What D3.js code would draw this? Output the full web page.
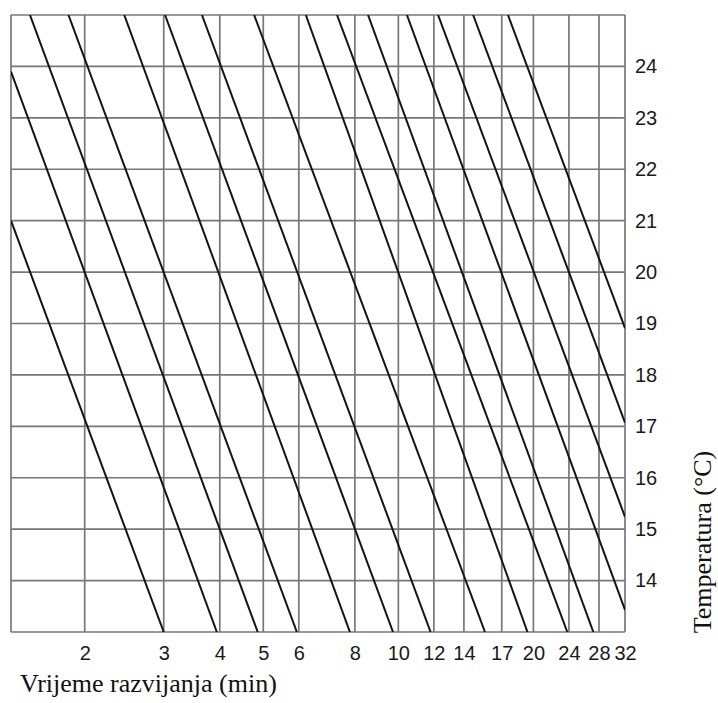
<!DOCTYPE html>
<html>
<head>
<meta charset="utf-8">
<script src="https://cdn.jsdelivr.net/npm/d3@7/dist/d3.min.js"></script>
<style>
  body { margin: 0; background: #fff; }
  svg { display: block; }
</style>
</head>
<body>
<svg id="chart"></svg>
<script>
// development time ticks (min) and temperature ticks (°C)
const timeTicks = [2, 3, 4, 5, 6, 8, 10, 12, 14, 17, 20, 24, 28, 32];
const tempTicks = [14, 15, 16, 17, 18, 19, 20, 21, 22, 23, 24];
const timeRange = [1.37, 32];
const tempRange = [13, 25];

const lineStartTime = [1.37, 1.37, 1.51, 1.84, 2.45, 3.02, 3.65, 4.77, 6.22, 7.30, 8.56, 10.45, 12.26, 14.68, 17.55];
const lineStartTemp = [21.0, 23.9, 25, 25, 25, 25, 25, 25, 25, 25, 25, 25, 25, 25, 25];
const lineEndTime   = [3.0, 3.94, 4.86, 5.94, 7.8, 9.73, 11.8, 15.6, 19.4, 23.8, 27.2, 32, 32, 32, 32];
const lineEndTemp   = [13, 13, 13, 13, 13, 13, 13, 13, 13, 13, 13, 13.43, 15.24, 17.07, 18.91];

const xTitle = "Vrijeme razvijanja (min)";
const yTitle = "Temperatura (°C)";

const width = 718, height = 703;
const plot = {left: 11, right: 625, top: 15, bottom: 632};

const svg = d3.select("#chart").attr("width", width).attr("height", height);

const x = d3.scaleLog().domain(timeRange).range([plot.left, plot.right]);
const y = d3.scaleLinear().domain(tempRange).range([plot.bottom, plot.top]);

const gridColor = "#777";

// grid
const grid = svg.append("g").attr("class", "grid")
    .attr("stroke", gridColor).attr("stroke-width", 1.7);

grid.selectAll("line.v")
    .data([timeRange[0]].concat(timeTicks))
    .join("line")
    .attr("class", "v")
    .attr("x1", d => x(d)).attr("x2", d => x(d))
    .attr("y1", y(tempRange[0])).attr("y2", y(tempRange[1]));

grid.selectAll("line.h")
    .data([tempRange[0]].concat(tempTicks, [tempRange[1]]))
    .join("line")
    .attr("class", "h")
    .attr("y1", d => y(d)).attr("y2", d => y(d))
    .attr("x1", x(timeRange[0])).attr("x2", x(timeRange[1]));

// development lines, clipped to the frame
svg.append("clipPath").attr("id", "plot-clip")
    .append("rect")
    .attr("x", plot.left).attr("y", plot.top)
    .attr("width", plot.right - plot.left).attr("height", plot.bottom - plot.top);

const lines = lineStartTime.map((t, i) => ({
    t1: t, T1: lineStartTemp[i], t2: lineEndTime[i], T2: lineEndTemp[i]
}));

svg.append("g").attr("clip-path", "url(#plot-clip)")
    .selectAll("line")
    .data(lines)
    .join("line")
    .attr("x1", d => x(d.t1)).attr("y1", d => y(d.T1))
    .attr("x2", d => x(d.t2)).attr("y2", d => y(d.T2))
    .attr("stroke", "#141414")
    .attr("stroke-width", 2);

// axes (labels only)
const xAxis = svg.append("g")
    .attr("transform", `translate(0,${plot.bottom + 11})`)
    .call(d3.axisBottom(x).tickValues(timeTicks).tickFormat(d3.format("d")).tickSize(0));
xAxis.select(".domain").remove();
xAxis.selectAll("text")
    .attr("font-family", "Liberation Sans, Arial, sans-serif")
    .attr("font-size", 20)
    .attr("fill", "#1a1a1a");

const yAxis = svg.append("g")
    .attr("transform", `translate(${plot.right + 1},0)`)
    .call(d3.axisRight(y).tickValues(tempTicks).tickFormat(d3.format("d")).tickSize(0));
yAxis.select(".domain").remove();
yAxis.selectAll("text")
    .attr("x", 9)
    .attr("font-family", "Liberation Sans, Arial, sans-serif")
    .attr("font-size", 20)
    .attr("fill", "#1a1a1a");

// titles
svg.append("text")
    .attr("x", 20).attr("y", 692)
    .attr("font-family", "Liberation Serif, Times New Roman, serif")
    .attr("font-size", 26)
    .attr("fill", "#111")
    .text(xTitle);

svg.append("text")
    .attr("transform", "translate(711,542) rotate(-90)")
    .attr("text-anchor", "middle")
    .attr("font-family", "Liberation Serif, Times New Roman, serif")
    .attr("font-size", 26)
    .attr("fill", "#111")
    .text(yTitle);
</script>
</body>
</html>
